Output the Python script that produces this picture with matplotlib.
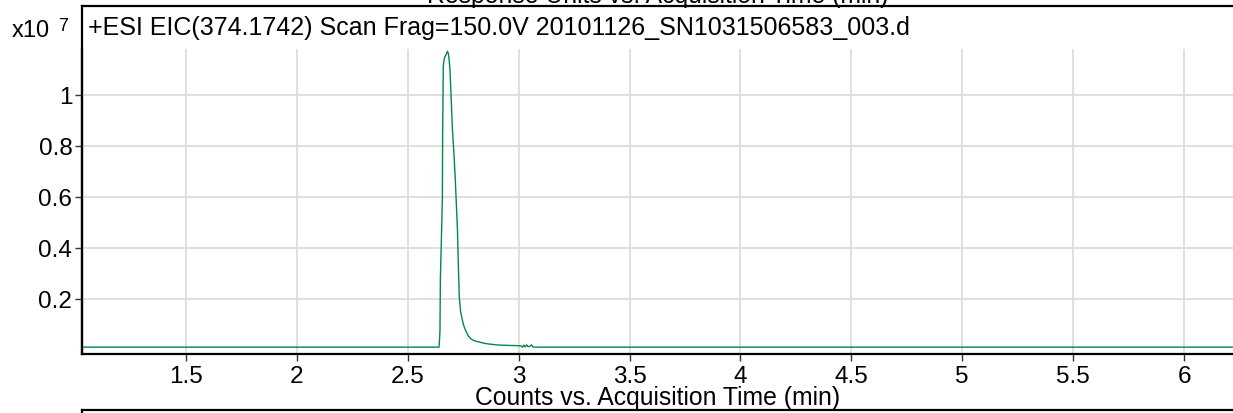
import matplotlib
matplotlib.use("Agg")
import matplotlib.pyplot as plt

plt.rcParams['font.family'] = ['Liberation Sans', 'DejaVu Sans']

# EIC trace: acquisition time (min) and response (x10^7 counts)
time_min = [1.03, 2.641, 2.645, 2.647, 2.652, 2.656, 2.657, 2.660, 2.664, 2.668,
            2.674, 2.679, 2.683, 2.686, 2.690, 2.694, 2.701, 2.708, 2.714, 2.719,
            2.724, 2.728, 2.732, 2.738, 2.745, 2.752, 2.762, 2.772, 2.785, 2.800,
            2.823, 2.845, 2.868, 2.890, 2.914, 2.950, 2.990, 3.010, 3.018, 3.024,
            3.030, 3.036, 3.042, 3.050, 3.058, 3.064, 3.080, 6.30]
counts_e7 = [0.010, 0.010, 0.070, 0.280, 0.450, 0.600, 0.830, 1.110, 1.140, 1.150,
             1.160, 1.170, 1.160, 1.140, 1.100, 1.020, 0.870, 0.770, 0.670, 0.570,
             0.470, 0.330, 0.210, 0.150, 0.120, 0.095, 0.073, 0.055, 0.042, 0.035,
             0.030, 0.025, 0.022, 0.020, 0.018, 0.017, 0.016, 0.015, 0.010, 0.018,
             0.011, 0.019, 0.012, 0.013, 0.019, 0.011, 0.010, 0.010]

xticks = [1.5, 2, 2.5, 3, 3.5, 4, 4.5, 5, 5.5, 6]
xticklabels = ['1.5', '2', '2.5', '3', '3.5', '4', '4.5', '5', '5.5', '6']
yticks = [0.2, 0.4, 0.6, 0.8, 1.0]
yticklabels = ['0.2', '0.4', '0.6', '0.8', '1']

header = "+ESI EIC(374.1742) Scan Frag=150.0V 20101126_SN1031506583_003.d"

W, H = 1233, 414
fig = plt.figure(figsize=(W / 100, H / 100), dpi=100)


def box(left, top, right, bottom):
    # pixel box (from top-left) -> figure fraction rect
    return [left / W, 1 - bottom / H, (right - left) / W, (bottom - top) / H]


# outer frame with header area (runs past the right edge, like the crop)
frame = fig.add_axes(box(82, 6.5, 1245, 354.5))
frame.patch.set_visible(False)
frame.set_xticks([])
frame.set_yticks([])
for s in ['right', 'bottom']:
    frame.spines[s].set_visible(False)
for s in ['left', 'top']:
    frame.spines[s].set_linewidth(1.6)

# data area
ax = fig.add_axes(box(82, 50, 1245, 354.5))
ax.patch.set_visible(False)
ax.plot(time_min, counts_e7, color='#008a45', lw=1.0)
ax.set_xlim(1.031, 6.275)
ax.set_ylim(-0.0149, 1.179)
ax.set_xticks(xticks)
ax.set_xticklabels(xticklabels)
ax.set_yticks(yticks)
ax.set_yticklabels(yticklabels)
ax.tick_params(axis='both', labelsize=17.5, width=1.0, length=5, color='#333333')
ax.tick_params(axis='x', pad=3)
ax.tick_params(axis='y', pad=2)
ax.grid(True, color='#dddddd', lw=1.3)
ax.set_axisbelow(True)
for s in ['right', 'top']:
    ax.spines[s].set_visible(False)
for s in ['left', 'bottom']:
    ax.spines[s].set_linewidth(1.6)

fig.text(88 / W, 1 - 28 / H, header, fontsize=18, va='center', ha='left')
fig.text(12 / W, 1 - 37 / H, "x10", fontsize=17, va='baseline', ha='left')
fig.text(58 / W, 1 - 31 / H, "7", fontsize=13, va='baseline', ha='left')
fig.text(658 / W, 1 - 3 / H, "Response Units vs. Acquisition Time (min)",
         fontsize=17.8, va='baseline', ha='center')
fig.text(658 / W, 1 - 398 / H, "Counts vs. Acquisition Time (min)",
         fontsize=17.8, va='center', ha='center')

# top of next panel
nxt = fig.add_axes(box(82, 410.5, 1245, 440))
nxt.patch.set_visible(False)
nxt.set_xticks([])
nxt.set_yticks([])
for s in ['right', 'bottom']:
    nxt.spines[s].set_visible(False)
for s in ['left', 'top']:
    nxt.spines[s].set_linewidth(1.6)

fig.savefig("out.png", dpi=100)
